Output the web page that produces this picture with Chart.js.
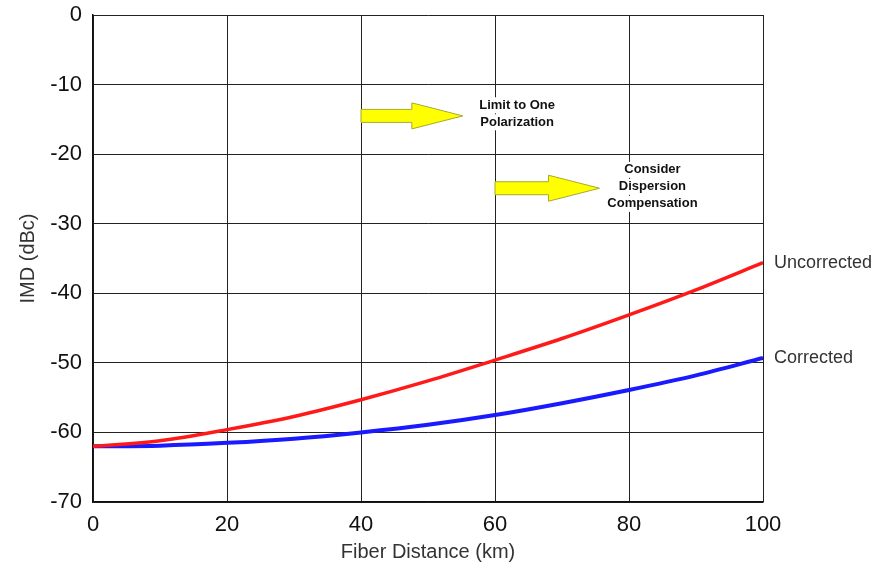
<!DOCTYPE html>
<html>
<head>
<meta charset="utf-8">
<script src="https://cdn.jsdelivr.net/npm/chart.js@4"></script>
<style>
  html, body { margin: 0; padding: 0; background: #fff; }
  #wrap { width: 875px; height: 566px; position: relative; }
</style>
</head>
<body>
<div id="wrap"><canvas id="grafico"></canvas></div>
<script>
// dados
const distancias = [0, 10, 20, 30, 40, 50, 60, 70, 80, 90, 100];
const semCorrecao = [-62, -61.2, -59.6, -57.7, -55.3, -52.6, -49.6, -46.5, -43.1, -39.5, -35.6];
const comCorrecao = [-62, -61.9, -61.5, -60.9, -60, -58.9, -57.5, -55.8, -53.9, -51.8, -49.3];
const nomesSeries = ['Uncorrected', 'Corrected'];
const coresSeries = ['#ff1a1a', '#1a1aff'];

// setas amarelas: [x inicial, x final, y] em unidades do gráfico
const setas = [[40, 55.2, -14.5], [60, 75.6, -24.9]];
const textosSetas = [['Limit to One', 'Polarization'], ['Consider', 'Dispersion', 'Compensation']];
const posTextos = [[63.3, -14.2], [83.5, -24.7]];

const pluginAnotacoes = {
  id: 'anotacoes',
  afterDatasetsDraw(chart) {
    const ctx = chart.ctx;
    const sx = chart.scales.x, sy = chart.scales.y;
    ctx.save();
    // setas
    setas.forEach(([x0, x1, y]) => {
      const px0 = sx.getPixelForValue(x0), px1 = sx.getPixelForValue(x1);
      const py = sy.getPixelForValue(y);
      const corpo = 6.5, cabeca = 13, compCabeca = 51;
      ctx.beginPath();
      ctx.moveTo(px0, py - corpo);
      ctx.lineTo(px1 - compCabeca, py - corpo);
      ctx.lineTo(px1 - compCabeca, py - cabeca);
      ctx.lineTo(px1, py);
      ctx.lineTo(px1 - compCabeca, py + cabeca);
      ctx.lineTo(px1 - compCabeca, py + corpo);
      ctx.lineTo(px0, py + corpo);
      ctx.closePath();
      ctx.fillStyle = '#ffff00';
      ctx.fill();
      ctx.strokeStyle = '#a8a830';
      ctx.lineWidth = 1;
      ctx.stroke();
    });
    // textos das setas
    ctx.font = 'bold 13px "Liberation Sans", Arial, sans-serif';
    ctx.textAlign = 'center';
    ctx.textBaseline = 'middle';
    textosSetas.forEach((linhas, i) => {
      const px = sx.getPixelForValue(posTextos[i][0]);
      const py = sy.getPixelForValue(posTextos[i][1]);
      const ini = py - (linhas.length - 1) * 8.5;
      linhas.forEach((t, j) => {
        const w = ctx.measureText(t).width;
        ctx.fillStyle = '#fff';
        ctx.fillRect(px - w / 2 - 2, ini + j * 17 - 8, w + 4, 16);
        ctx.fillStyle = '#111';
        ctx.fillText(t, px, ini + j * 17);
      });
    });
    // nomes das curvas à direita
    ctx.font = '18px "Liberation Sans", Arial, sans-serif';
    ctx.fillStyle = '#333';
    ctx.textAlign = 'left';
    chart.data.datasets.forEach(ds => {
      const ultimo = ds.data[ds.data.length - 1];
      ctx.fillText(ds.label, chart.chartArea.right + 11, sy.getPixelForValue(ultimo));
    });
    ctx.restore();
  }
};

const ctx = document.getElementById('grafico').getContext('2d');
new Chart(ctx, {
  type: 'line',
  data: {
    labels: distancias,
    datasets: [
      {
        label: nomesSeries[0],
        data: semCorrecao,
        borderColor: coresSeries[0],
        borderWidth: 3.5,
        pointRadius: 0,
        cubicInterpolationMode: 'monotone'
      },
      {
        label: nomesSeries[1],
        data: comCorrecao,
        borderColor: coresSeries[1],
        borderWidth: 4,
        pointRadius: 0,
        cubicInterpolationMode: 'monotone'
      }
    ]
  },
  options: {
    responsive: true,
    maintainAspectRatio: false,
    animation: false,
    layout: { padding: { top: 15, right: 112, bottom: 0, left: 0 } },
    plugins: {
      legend: { display: false },
      tooltip: { enabled: false }
    },
    scales: {
      x: {
        type: 'linear',
        min: 0,
        max: 100,
        ticks: {
          stepSize: 20,
          color: '#111',
          padding: 10,
          font: { family: '"Liberation Sans", Arial, sans-serif', size: 22 }
        },
        grid: { color: '#222', lineWidth: 1, drawTicks: false },
        border: { color: '#111', width: 1.5 },
        title: {
          display: true,
          text: 'Fiber Distance (km)',
          color: '#333',
          padding: { top: 0, bottom: 2 },
          font: { family: '"Liberation Sans", Arial, sans-serif', size: 20 }
        },
        afterFit(scale) {
          scale.height = 64;
          scale.paddingLeft = 0;
          scale.paddingRight = 0;
        }
      },
      y: {
        min: -70,
        max: 0,
        ticks: {
          stepSize: 10,
          color: '#111',
          padding: 11,
          font: { family: '"Liberation Sans", Arial, sans-serif', size: 22 }
        },
        grid: { color: '#222', lineWidth: 1, drawTicks: false },
        border: { color: '#111', width: 1.5 },
        title: {
          display: true,
          text: 'IMD (dBc)',
          color: '#333',
          padding: { top: 16, bottom: 0 },
          font: { family: '"Liberation Sans", Arial, sans-serif', size: 20 }
        },
        afterFit(scale) {
          scale.width = 93;
          scale.paddingTop = 0;
          scale.paddingBottom = 0;
        }
      }
    }
  },
  plugins: [pluginAnotacoes]
});
</script>
</body>
</html>
